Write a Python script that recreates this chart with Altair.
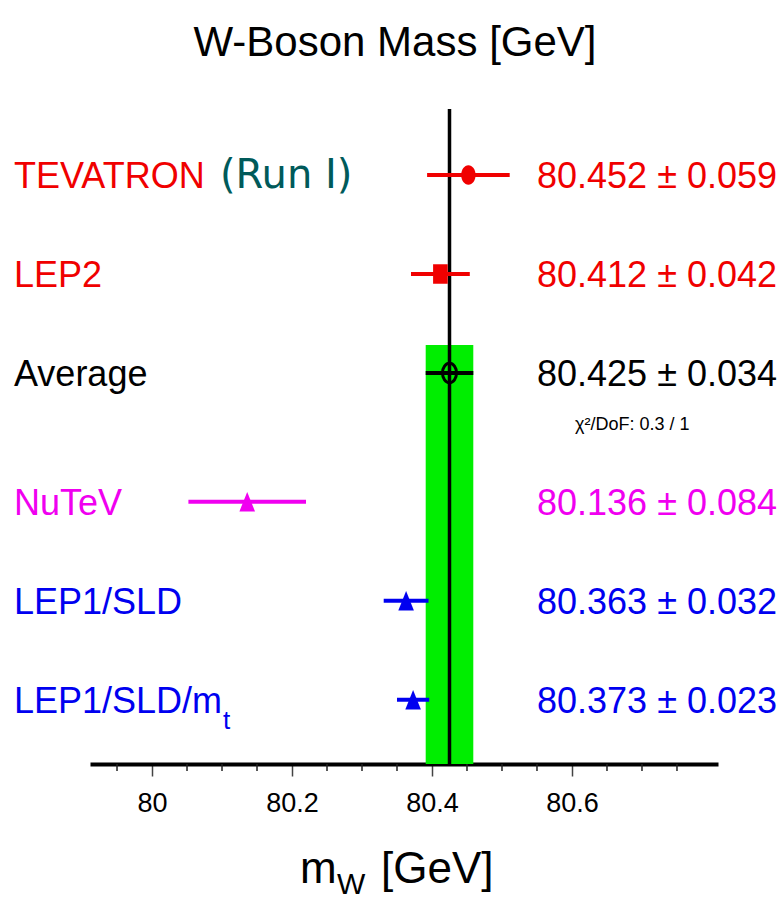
import altair as alt
import pandas as pd

# ---- data ----
names = ["TEVATRON", "LEP2", "Average", "NuTeV", "LEP1/SLD", "LEP1/SLD/m"]
notes = ["(Run I)", "", "", "", "", ""]
subscripts = ["", "", "", "", "", "t"]
values = [80.452, 80.412, 80.425, 80.136, 80.363, 80.373]
errors = [0.059, 0.042, 0.034, 0.084, 0.032, 0.023]

major_ticks = [80.0, 80.2, 80.4, 80.6]
minor_ticks = [79.95, 80.05, 80.1, 80.15, 80.25, 80.3, 80.35,
               80.45, 80.5, 80.55, 80.65, 80.7, 80.75]
x_domain = [79.9114, 80.8086]

title_text = "W-Boson Mass  [GeV]"
xtitle_main = "m"
xtitle_sub = "W"
xtitle_unit = "[GeV]"
chi2_text = "χ²/DoF: 0.3 / 1"

# ---- styles ----
colors = ["#f00000", "#f00000", "#000000", "#f000f0", "#0000f0", "#0000f0"]
ELL = "M-0.74,0 A0.74,1 0 1,0 0.74,0 A0.74,1 0 1,0 -0.74,0 Z"
SQ = "M-0.75,-1 L0.75,-1 L0.75,1 L-0.75,1 Z"
TRI = "M0,-1 L0.8,1 L-0.8,1 Z"
OPEN = "M-0.72,0 A0.72,1 0 1,0 0.72,0 A0.72,1 0 1,0 -0.72,0 Z"
markers = [ELL, SQ, OPEN, TRI, TRI, TRI]

FONT = "Liberation Sans"
W, H = 628, 655

df = pd.DataFrame({
    "name": names,
    "note": notes,
    "sub": subscripts,
    "value": values,
    "err": errors,
    "color": colors,
    "marker": markers,
})
df["i"] = range(len(df))
df["lo"] = df["value"] - df["err"]
df["hi"] = df["value"] + df["err"]
df["label"] = [f"{v:.3f} ± {e:.3f}" for v, e in zip(values, errors)]

xs = alt.Scale(domain=x_domain, nice=False, zero=False)
ys = alt.Scale(domain=[-0.6667, 5.9495], reverse=True, nice=False, zero=False)

AX = alt.Axis(
    values=major_ticks,
    format="~g",
    title=None,
    grid=False,
    labelFont=FONT,
    labelFontSize=27,
    labelColor="black",
    labelPadding=14,
    labelFlush=False,
    labelOverlap=False,
    domainColor="black",
    domainWidth=4,
    tickColor="#444444",
    tickWidth=1.5,
    tickSize=12,
)


def X(field):
    return alt.X(field, scale=xs, axis=AX)


base = alt.Chart(df).transform_calculate(
    slot="datum.i + (datum.i >= 3 ? 0.3 : 0)"
)
Y = alt.Y("slot:Q", scale=ys, axis=None)

avg = base.transform_filter("datum.name == 'Average'")

band = avg.transform_calculate(top="datum.slot - 0.283").mark_rect(
    color="#00ee00"
).encode(
    x=X("lo:Q"),
    x2="hi:Q",
    y=alt.Y("top:Q", scale=ys, axis=None),
    y2=alt.value(H),
)

vline = avg.mark_rule(color="black", strokeWidth=3.5).encode(
    x=X("value:Q"),
    y=alt.value(0),
    y2=alt.value(H),
)

errbars = base.mark_rule(strokeWidth=4).encode(
    x=X("lo:Q"),
    x2="hi:Q",
    y=Y,
    color=alt.Color("color:N", scale=None),
)

filled = base.transform_filter("datum.name != 'Average'").mark_point(
    filled=True, size=380, opacity=1
).encode(
    x=X("value:Q"),
    y=Y,
    shape=alt.Shape("marker:N", scale=None),
    color=alt.Color("color:N", scale=None),
)

openpt = avg.mark_point(
    filled=False, size=380, strokeWidth=3, color="black", opacity=1
).encode(
    x=X("value:Q"),
    y=Y,
    shape=alt.Shape("marker:N", scale=None),
)

minor = alt.Chart(pd.DataFrame({"t": minor_ticks})).mark_rule(
    color="#222222", strokeWidth=1.5
).encode(
    x=X("t:Q"),
    y=alt.value(H),
    y2=alt.value(H + 7),
)

labels = base.mark_text(
    align="left", baseline="middle", font=FONT, fontSize=36, dy=2
).encode(
    x=alt.value(-76),
    y=Y,
    text="name:N",
    color=alt.Color("color:N", scale=None),
)

note = base.transform_filter("datum.note != ''").mark_text(
    align="left", baseline="middle", font="DejaVu Sans", fontSize=40,
    color="#005a5a", dy=1
).encode(
    x=alt.value(130),
    y=Y,
    text="note:N",
)

sub = base.transform_filter("datum.sub != ''").mark_text(
    align="left", baseline="middle", font=FONT, fontSize=26, dy=21
).encode(
    x=alt.value(133),
    y=Y,
    text="sub:N",
    color=alt.Color("color:N", scale=None),
)

vals = base.mark_text(
    align="right", baseline="middle", font=FONT, fontSize=36, dy=2
).encode(
    x=alt.value(687),
    y=Y,
    text="label:N",
    color=alt.Color("color:N", scale=None),
)

chi2 = avg.mark_text(
    align="left", baseline="alphabetic", font=FONT, fontSize=18,
    color="black", dy=57
).encode(
    x=alt.value(485),
    y=Y,
    text=alt.value(chi2_text),
)

title = alt.Chart(pd.DataFrame({"t": [title_text]})).mark_text(
    align="center", baseline="alphabetic", font=FONT, fontSize=42, color="black"
).encode(x=alt.value(305), y=alt.value(-53), text="t:N")

xt = pd.DataFrame({"m": [xtitle_main], "w": [xtitle_sub], "u": [xtitle_unit]})
xt_m = alt.Chart(xt).mark_text(
    align="left", baseline="alphabetic", font=FONT, fontSize=44, color="black"
).encode(x=alt.value(210), y=alt.value(774), text="m:N")
xt_w = alt.Chart(xt).mark_text(
    align="left", baseline="alphabetic", font=FONT, fontSize=30, color="black"
).encode(x=alt.value(247), y=alt.value(785), text="w:N")
xt_u = alt.Chart(xt).mark_text(
    align="left", baseline="alphabetic", font=FONT, fontSize=44, color="black"
).encode(x=alt.value(291), y=alt.value(774), text="u:N")

chart = alt.layer(
    band, vline, errbars, filled, openpt, minor,
    labels, note, sub, vals, chi2, title, xt_m, xt_w, xt_u,
).properties(
    width=W,
    height=H,
    padding={"left": 90, "top": 109, "right": 66, "bottom": 136},
    autosize=alt.AutoSizeParams(type="none"),
    background="white",
).configure_view(stroke=None)

chart.save("out.html", embed_options={"renderer": "svg", "actions": False})
